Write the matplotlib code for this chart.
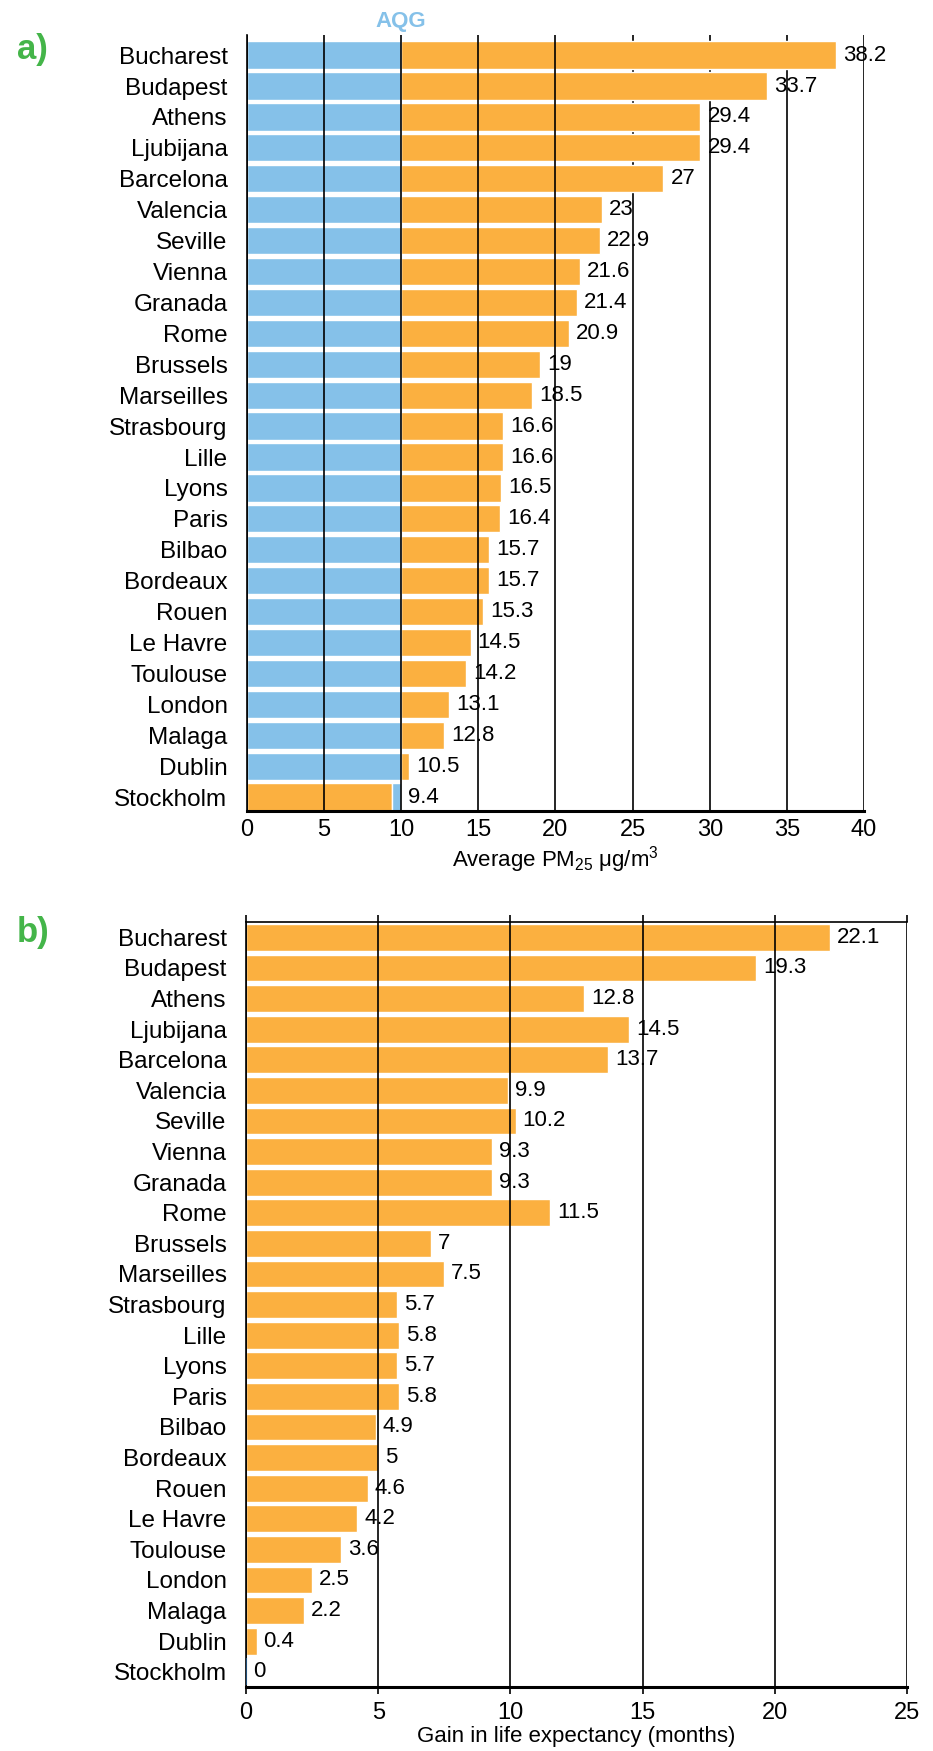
import matplotlib
matplotlib.use('Agg')
import matplotlib.pyplot as plt

plt.rcParams['font.family'] = ['Liberation Sans', 'DejaVu Sans']
plt.rcParams['mathtext.default'] = 'regular'

# data
cities = ['Bucharest', 'Budapest', 'Athens', 'Ljubijana', 'Barcelona', 'Valencia',
          'Seville', 'Vienna', 'Granada', 'Rome', 'Brussels', 'Marseilles',
          'Strasbourg', 'Lille', 'Lyons', 'Paris', 'Bilbao', 'Bordeaux', 'Rouen',
          'Le Havre', 'Toulouse', 'London', 'Malaga', 'Dublin', 'Stockholm']
pm25 = [38.2, 33.7, 29.4, 29.4, 27, 23, 22.9, 21.6, 21.4, 20.9, 19, 18.5,
        16.6, 16.6, 16.5, 16.4, 15.7, 15.7, 15.3, 14.5, 14.2, 13.1, 12.8, 10.5, 9.4]
gain = [22.1, 19.3, 12.8, 14.5, 13.7, 9.9, 10.2, 9.3, 9.3, 11.5, 7, 7.5,
        5.7, 5.8, 5.7, 5.8, 4.9, 5, 4.6, 4.2, 3.6, 2.5, 2.2, 0.4, 0]
aqg = 10

BLUE = '#85c1e9'
ORANGE = '#fbb040'
GREEN = '#44b549'
FS_CITY = 17.5
FS_TICK = 17
FS_VAL = 16


def fmt(v):
    return ('%g' % v)


fig = plt.figure(figsize=(9.33, 17.51), dpi=100)
ax1 = fig.add_axes([0.2647, 0.53684, 0.6613, 0.44317])
ax2 = fig.add_axes([0.2637, 0.0365, 0.7085, 0.4369])

y = list(range(len(cities)))

# panel a: blue part up to the AQG, orange part above it
below = [min(v, aqg) for v in pm25]
above = [max(v - aqg, 0) for v in pm25]
gap = [max(aqg - v, 0) for v in pm25]
for i, v in enumerate(pm25):
    if v >= aqg:
        ax1.barh(i, below[i], height=0.88, color=BLUE, edgecolor='white', linewidth=1, zorder=2)
        ax1.barh(i, above[i], left=aqg, height=0.88, color=ORANGE, edgecolor='white', linewidth=1, zorder=2)
    else:
        ax1.barh(i, v, height=0.88, color=ORANGE, edgecolor='white', linewidth=1, zorder=2)
        ax1.barh(i, gap[i], left=v, height=0.88, color=BLUE, edgecolor='white', linewidth=1, zorder=2)
    ax1.annotate(fmt(v), (max(v, aqg), i), xytext=(5, 0), textcoords='offset points',
                 ha='left', va='center', fontsize=FS_VAL, zorder=5)

for gx in range(0, 41, 5):
    ax1.axvline(gx, color='black', linewidth=1.2, zorder=3 if gx <= 20 else 1)

ax1.set_xlim(0, 40)
ax1.set_ylim(24.45, -0.65)
ax1.set_yticks(y)
ax1.set_yticklabels(cities, fontsize=FS_CITY)
ax1.set_xticks(range(0, 41, 5))
ax1.tick_params(axis='x', length=0, labelsize=FS_TICK, pad=6)
ax1.tick_params(axis='y', length=0, pad=14)
ax1.set_xlabel(r'Average PM$_{25}$ μg/m$^{3}$', fontsize=FS_VAL, labelpad=2)
for s in ['top', 'right']:
    ax1.spines[s].set_visible(False)
ax1.spines['bottom'].set_linewidth(2.2)
ax1.spines['left'].set_linewidth(1.2)
ax1.text(aqg, -0.75, 'AQG', color=BLUE, fontsize=FS_VAL, fontweight='bold',
         ha='center', va='bottom')

# panel b: gain in life expectancy
ax2.barh(y, gain, height=0.88, color=ORANGE, edgecolor='white', linewidth=1, zorder=2)
ax2.barh(y[-1], gain[-1], height=0.88, color=ORANGE, edgecolor='#1f4e79', linewidth=1.5, zorder=4)
for i, v in enumerate(gain):
    ax2.annotate(fmt(v), (v, i), xytext=(5, 0), textcoords='offset points',
                 ha='left', va='center', fontsize=FS_VAL, zorder=5)
for gx in range(0, 26, 5):
    ax2.axvline(gx, color='black', linewidth=1.2, zorder=3)
ax2.set_xlim(0, 25)
ax2.set_ylim(24.5, -0.5)
ax2.set_yticks(y)
ax2.set_yticklabels(cities, fontsize=FS_CITY)
ax2.set_xticks(range(0, 26, 5))
ax2.tick_params(axis='x', length=0, labelsize=FS_TICK, pad=6)
ax2.tick_params(axis='y', length=0, pad=14)
ax2.tick_params(axis='x', top=True, direction='out', length=5, width=1.2)
ax2.set_xlabel('Gain in life expectancy (months)', fontsize=FS_VAL, labelpad=1)
ax2.spines['right'].set_visible(False)
ax2.spines['bottom'].set_linewidth(2.2)
ax2.spines['left'].set_linewidth(1.2)
ax2.spines['top'].set_linewidth(1.2)

fig.text(0.035, 1 - 50 / 1751, 'a)', color=GREEN, fontsize=25, fontweight='bold',
         ha='center', va='center')
fig.text(0.035, 1 - 932 / 1751, 'b)', color=GREEN, fontsize=25, fontweight='bold',
         ha='center', va='center')

fig.savefig('out.png', dpi=100)
